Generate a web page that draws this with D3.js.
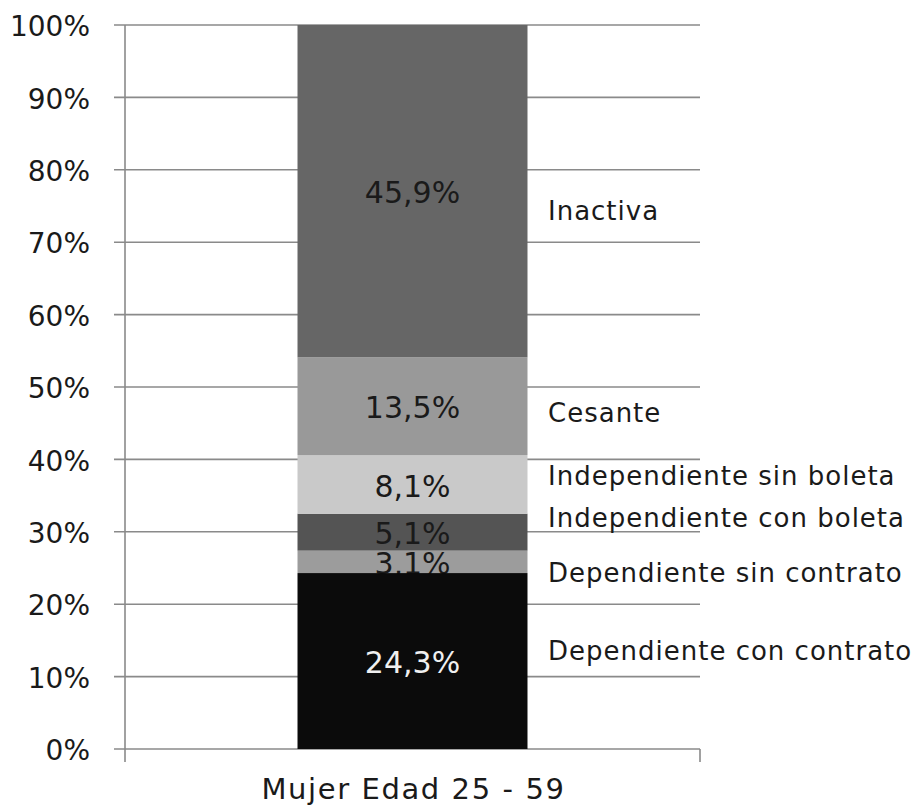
<!DOCTYPE html>
<html>
<head>
<meta charset="utf-8">
<script src="https://cdn.jsdelivr.net/npm/d3@7"></script>
<style>
  html, body { margin: 0; padding: 0; background: #ffffff; }
  svg { display: block; font-family: "DejaVu Sans", Verdana, sans-serif; }
</style>
</head>
<body>
<svg id="chart" width="918" height="812"></svg>
<script>
// Single stacked column, composition of employment status
const category = ["Mujer Edad 25 - 59"];
const seriesNames = [
  "Dependiente con contrato",
  "Dependiente sin contrato",
  "Independiente con boleta",
  "Independiente sin boleta",
  "Cesante",
  "Inactiva"
];
const seriesValues = [24.3, 3.1, 5.1, 8.1, 13.5, 45.9];
const valueLabels = ["24,3%", "3,1%", "5,1%", "8,1%", "13,5%", "45,9%"];
const seriesColors = ["#0b0b0b", "#9c9c9c", "#545454", "#c9c9c9", "#999999", "#666666"];
const valueLabelColors = ["#f0f0f0", "#1a1a1a", "#1a1a1a", "#1a1a1a", "#1a1a1a", "#1a1a1a"];
// Where each series name sits on the value axis (text baseline, in %)
const nameAnchors = [12.3, 23.1, 30.6, 36.4, 45.2, 73.1];
const yTicks = [0, 10, 20, 30, 40, 50, 60, 70, 80, 90, 100];

const svg = d3.select("#chart");
const plot = { left: 125, right: 700, top: 25, bottom: 749 };

const y = d3.scaleLinear().domain([0, 100]).range([plot.bottom, plot.top]);
const x = d3.scaleBand().domain(category).range([plot.left, plot.right]).padding(0.4286);

const gridColor = "#8a8a8a";

// Horizontal gridlines with short outer ticks
svg.append("g")
  .selectAll("line")
  .data(yTicks)
  .join("line")
  .attr("x1", plot.left - 11)
  .attr("x2", plot.right)
  .attr("y1", d => y(d))
  .attr("y2", d => y(d))
  .attr("stroke", gridColor)
  .attr("stroke-width", 1.6);

// Value axis line
svg.append("line")
  .attr("x1", plot.left).attr("x2", plot.left)
  .attr("y1", y(100)).attr("y2", plot.bottom + 13)
  .attr("stroke", gridColor).attr("stroke-width", 1.6);

// Category axis boundary tick at the right end
svg.append("line")
  .attr("x1", plot.right).attr("x2", plot.right)
  .attr("y1", plot.bottom).attr("y2", plot.bottom + 13)
  .attr("stroke", gridColor).attr("stroke-width", 1.6);

// Tick labels
svg.append("g")
  .selectAll("text")
  .data(yTicks)
  .join("text")
  .attr("x", 90)
  .attr("y", d => y(d))
  .attr("dy", "0.4em")
  .attr("text-anchor", "end")
  .attr("font-size", 28)
  .attr("fill", "#1a1a1a")
  .text(d => d + "%");

// Stack the segments
const stackData = seriesValues.map((v, i) => {
  const start = d3.sum(seriesValues.slice(0, i));
  return { i, name: seriesNames[i], v, y0: start, y1: start + v };
});

// Upper segments first, the base segment last so it sits on top of neighbouring labels
const drawOrder = stackData.slice(1).concat([stackData[0]]);

const bars = svg.append("g");
drawOrder.forEach(d => {
  bars.append("rect")
    .attr("x", x(category[0]))
    .attr("width", x.bandwidth())
    .attr("y", y(d.y1))
    .attr("height", y(d.y0) - y(d.y1))
    .attr("fill", seriesColors[d.i]);
  bars.append("text")
    .attr("x", x(category[0]) + x.bandwidth() / 2)
    .attr("y", y((d.y0 + d.y1) / 2))
    .attr("dy", "0.41em")
    .attr("text-anchor", "middle")
    .attr("font-size", 30)
    .attr("fill", valueLabelColors[d.i])
    .text(valueLabels[d.i]);
});

// Series names to the right of the column
svg.append("g")
  .selectAll("text")
  .data(seriesNames)
  .join("text")
  .attr("x", 548)
  .attr("y", (d, i) => y(nameAnchors[i]))
  .attr("font-size", 26)
  .attr("letter-spacing", 1)
  .attr("fill", "#1a1a1a")
  .text(d => d);

// Category label
svg.append("text")
  .attr("x", x(category[0]) + x.bandwidth() / 2 + 1)
  .attr("y", 799)
  .attr("text-anchor", "middle")
  .attr("font-size", 29)
  .attr("letter-spacing", 1.6)
  .attr("fill", "#1a1a1a")
  .text(category[0]);
</script>
</body>
</html>
